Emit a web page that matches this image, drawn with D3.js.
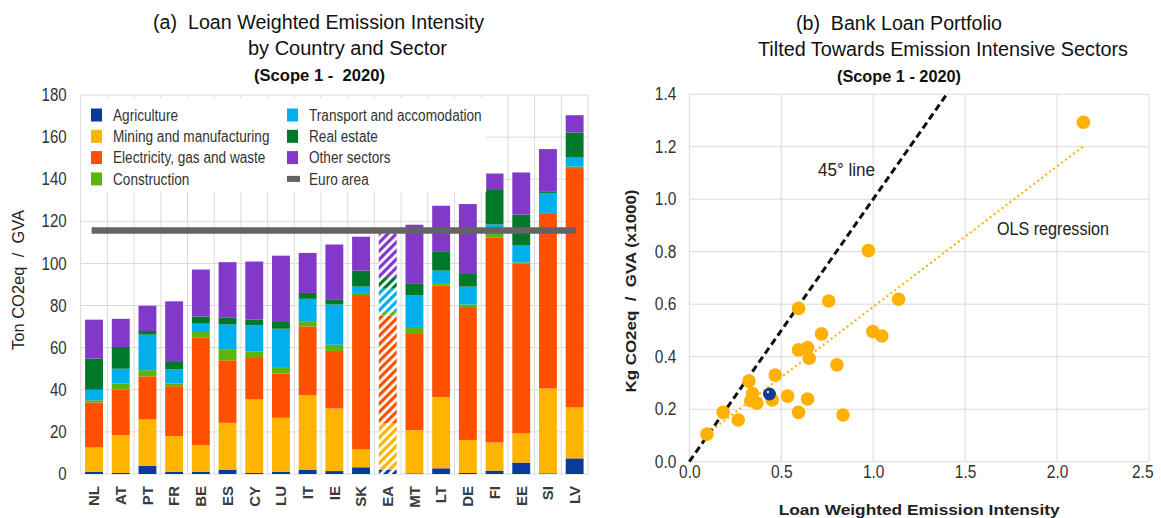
<!DOCTYPE html>
<html><head><meta charset="utf-8">
<script src="https://cdn.jsdelivr.net/npm/d3@7"></script>
<style>
html,body{margin:0;padding:0;background:#fff;}
svg{display:block;}
text{white-space:pre;}
</style></head>
<body>
<svg id="chart" width="1161" height="518"></svg>
<script>
// ---------- Data: panel (a) ----------
const countries = ["NL","AT","PT","FR","BE","ES","CY","LU","IT","IE","SK","EA","MT","LT","DE","FI","EE","SI","LV"];
const sectors = ["Agriculture","Mining and manufacturing","Electricity, gas and waste","Construction","Transport and accomodation","Real estate","Other sectors"];
const agriculture   = [1,0.5,3.8,1,1,1.9,0.5,1,1.9,1.4,3.2,1.9,0.3,2.7,0.5,1.6,5.4,0.3,7.4];
const mining        = [11.6,18,22.1,17,12.7,22.4,34.9,25.7,35.5,29.7,8.5,22.1,20.5,33.9,15.6,13.4,13.9,40.3,24.2];
const electricity   = [21.4,21.5,20.5,23.7,51,29.7,19.7,21,32.7,27.3,73.3,51.3,46.1,52.9,63.2,97.4,80.5,82.9,113.7];
const construction  = [1,3,2.9,1.3,3.2,5,3.2,2.7,2.5,3,1,1.7,2.9,0.8,1.2,1.6,0.7,0.5,0.7];
const transport     = [5,7,16.9,6.7,3.5,12,12.3,18.6,10.6,19.1,3,11,15,6.3,8.5,4.5,8,9.5,4.3];
const realEstate    = [14.8,10.3,1.7,3.5,3.4,3.2,2.7,3.2,2.8,2.2,7.6,5.5,5.5,9.2,6,16.8,14.7,0.5,11.9];
const otherSectors  = [18.5,13.4,12,28.8,22.3,26.4,27.6,31.5,19,26.3,16.1,20.8,28.1,21.6,33.2,7.4,20,20.3,8.2];
const euroAreaLevel = [115.6];
const yTicksA = [0,20,40,60,80,100,120,140,160,180];

// ---------- Data: panel (b) ----------
const lwei   = [2.143,0.974,0.594,0.758,1.138,0.719,0.998,1.047,0.594,0.643,0.652,0.803,0.467,0.324,0.344,0.334,0.367,0.451,0.535,0.643,0.184,0.266,0.594,0.836,0.096];
const kgco2  = [1.293,0.804,0.584,0.612,0.619,0.487,0.496,0.479,0.426,0.435,0.394,0.369,0.330,0.307,0.260,0.232,0.223,0.235,0.250,0.239,0.188,0.159,0.188,0.178,0.105];
const euroPointX = [0.436];
const euroPointY = [0.258];
const line45X = [0, 1.4];
const line45Y = [0, 1.4];
const olsX = [0.10, 2.14];
const olsY = [0.108, 1.20];
const xTicksB = [0,0.5,1.0,1.5,2.0,2.5];
const yTicksB = [0,0.2,0.4,0.6,0.8,1.0,1.2,1.4];

const colors = ["#0a3a9c","#ffb400","#ff5000","#5db40c","#00b0ec","#00782a","#8238c8"];
const euroColor = "#636363";
const dotColor = "#ffb000";
const dotBlue = "#123c94";
const gridColor = "#dadada";
const textColor = "#333";
const sans = "'Liberation Sans',Arial,sans-serif";

function narrow(sel, f){
  sel.each(function(){
    const w = this.getComputedTextLength();
    d3.select(this).attr("textLength", w*f).attr("lengthAdjust","spacingAndGlyphs");
  });
}

const svg = d3.select("#chart");

// ================= Panel (a) =================
const A = {left:80.7, right:588, top:95, bottom:474};
const xA = d3.scaleBand().domain(countries).range([A.left, A.right]).paddingInner(0.33).paddingOuter(0.165);
const yA = d3.scaleLinear().domain([0,180]).range([A.bottom, A.top]);

const gA = svg.append("g");
gA.append("g").selectAll("line").data(yTicksA).join("line")
  .attr("x1", A.left).attr("x2", A.right)
  .attr("y1", d=>yA(d)).attr("y2", d=>yA(d))
  .attr("stroke", gridColor).attr("stroke-width",1);
const bounds = countries.map(c => xA(c) - xA.step()*xA.paddingInner()/2).concat([A.right]);
gA.append("g").selectAll("line").data(bounds).join("line")
  .attr("x1", d=>d).attr("x2", d=>d)
  .attr("y1", A.top).attr("y2", A.bottom)
  .attr("stroke", gridColor).attr("stroke-width",1);

const yAxisA = d3.axisLeft(yA).tickValues(yTicksA).tickSize(0).tickPadding(14).tickFormat(d3.format("d"));
const gyA = gA.append("g").attr("transform",`translate(${A.left},0)`).call(yAxisA);
gyA.select(".domain").remove();
gyA.selectAll("text").attr("font-family", sans).attr("font-size", 17.5).attr("fill", textColor).call(narrow, 0.86);

const xAxisA = d3.axisBottom(xA).tickSize(0).tickPadding(0);
const gxA = gA.append("g").attr("transform",`translate(0,${A.bottom})`).call(xAxisA);
gxA.select(".domain").remove();
gxA.selectAll("text")
  .attr("transform","rotate(-90)")
  .attr("text-anchor","end").attr("dy","0.35em").attr("x",-12).attr("y",0)
  .attr("font-family", sans).attr("font-weight","bold").attr("font-size",15).attr("fill","#3a3a3a");

const defs = svg.append("defs");
colors.forEach((c,i)=>{
  const p = defs.append("pattern").attr("id","hatch"+i).attr("patternUnits","userSpaceOnUse")
    .attr("width",6).attr("height",6).attr("patternTransform","rotate(45)");
  p.append("rect").attr("width",6).attr("height",6).attr("fill","#fff");
  p.append("rect").attr("x",0).attr("width",3.2).attr("height",6).attr("fill",c);
});

const seriesVals = [agriculture, mining, electricity, construction, transport, realEstate, otherSectors];
const rows = countries.map((c,i)=>{ const o={country:c}; sectors.forEach((s,k)=>o[s]=seriesVals[k][i]); return o; });
const stacked = d3.stack().keys(sectors)(rows);
const barsG = gA.append("g");
stacked.forEach((layer,k)=>{
  barsG.append("g").selectAll("rect").data(layer).join("rect")
    .attr("x", d=>xA(d.data.country))
    .attr("width", xA.bandwidth())
    .attr("y", d=>yA(d[1]))
    .attr("height", d=>yA(d[0])-yA(d[1]))
    .attr("fill", d=> d.data.country==="EA" ? `url(#hatch${k})` : colors[k]);
});

// Legend
const legG = gA.append("g");
legG.append("rect").attr("x",A.left+0.5).attr("y",98).attr("width",405).attr("height",94).attr("fill","#fff");
const legItems = sectors.map((s,i)=>({name:s, color:colors[i], type:"rect"})).concat([{name:"Euro area", color:euroColor, type:"line"}]);
const legPos = [[0,0],[0,1],[0,2],[0,3],[1,0],[1,1],[1,2],[1,3]];
const colX = [91,287], rowY0 = 115, rowDy = 21.3;
legItems.forEach((it,i)=>{
  const [c,r] = legPos[i];
  const x = colX[c], y = rowY0 + r*rowDy;
  if(it.type==="rect"){
    legG.append("rect").attr("x",x).attr("y",y-6.5).attr("width",11).attr("height",13).attr("fill",it.color);
  } else {
    legG.append("rect").attr("x",x).attr("y",y-3).attr("width",13).attr("height",6).attr("fill",it.color);
  }
  legG.append("text").attr("x",x+22).attr("y",y).attr("dy","0.35em")
    .attr("font-family",sans).attr("font-size",16).attr("fill",textColor).text(it.name).call(narrow, 0.85);
});

gA.append("g").selectAll("line").data(euroAreaLevel).join("line")
  .attr("x1", xA("NL")+6.5).attr("x2", xA("LV")+xA.bandwidth()-8)
  .attr("y1", d=>yA(d)).attr("y2", d=>yA(d))
  .attr("stroke", euroColor).attr("stroke-width",6.5);

gA.append("text").attr("transform","translate(24,280) rotate(-90)")
  .attr("text-anchor","middle").attr("font-family",sans).attr("font-size",16.5).attr("fill","#222")
  .text("Ton CO2eq  /  GVA");

const tA = gA.append("g").attr("font-family",sans).attr("fill","#111");
tA.append("text").attr("x",153).attr("y",29).attr("font-size",20).attr("textLength",331).attr("lengthAdjust","spacingAndGlyphs").text("(a)  Loan Weighted Emission Intensity");
tA.append("text").attr("x",248).attr("y",55).attr("font-size",20).attr("textLength",199).attr("lengthAdjust","spacingAndGlyphs").text("by Country and Sector");
tA.append("text").attr("x",254).attr("y",81).attr("font-size",16).attr("font-weight","bold").attr("textLength",131).attr("lengthAdjust","spacingAndGlyphs").text("(Scope 1 -  2020)");

// ================= Panel (b) =================
const B = {left:689.3, right:1149, top:94.2, bottom:461.7};
const xB = d3.scaleLinear().domain([0,2.5]).range([B.left,B.right]);
const yB = d3.scaleLinear().domain([0,1.4]).range([B.bottom,B.top]);
const gB = svg.append("g");
gB.append("g").selectAll("line").data(yTicksB).join("line")
  .attr("x1",B.left).attr("x2",B.right).attr("y1",d=>yB(d)).attr("y2",d=>yB(d))
  .attr("stroke",gridColor).attr("stroke-width",1);
gB.append("g").selectAll("line").data(xTicksB).join("line")
  .attr("x1",d=>xB(d)).attr("x2",d=>xB(d)).attr("y1",B.top).attr("y2",B.bottom)
  .attr("stroke",gridColor).attr("stroke-width",1);

const gxB = gB.append("g").attr("transform",`translate(0,${B.bottom})`)
  .call(d3.axisBottom(xB).tickValues(xTicksB).tickSize(0).tickPadding(4).tickFormat(d3.format(".1f")));
gxB.select(".domain").remove();
gxB.selectAll("text").attr("font-family",sans).attr("font-size",18).attr("fill",textColor).call(narrow, 0.86);
// keep the last label inside the page edge
gxB.selectAll(".tick").filter(d=>d===2.5).select("text").attr("text-anchor","end").attr("x",4);
const gyB = gB.append("g").attr("transform",`translate(${B.left},0)`)
  .call(d3.axisLeft(yB).tickValues(yTicksB).tickSize(0).tickPadding(13).tickFormat(d3.format(".1f")));
gyB.select(".domain").remove();
gyB.selectAll("text").attr("font-family",sans).attr("font-size",18).attr("fill",textColor).call(narrow, 0.86);

const lineGen = d3.line().x(d=>xB(d[0])).y(d=>yB(d[1]));
gB.append("path").datum(olsX.map((x,i)=>[x,olsY[i]])).attr("d",lineGen)
  .attr("fill","none").attr("stroke",dotColor).attr("stroke-width",2).attr("stroke-dasharray","2,3");
gB.append("path").datum(line45X.map((x,i)=>[x,line45Y[i]])).attr("d",lineGen)
  .attr("fill","none").attr("stroke","#111").attr("stroke-width",3).attr("stroke-dasharray","7,4");

gB.append("g").selectAll("circle").data(lwei.map((x,i)=>[x,kgco2[i]])).join("circle")
  .attr("cx",d=>xB(d[0])).attr("cy",d=>yB(d[1])).attr("r",6.8).attr("fill",dotColor);
gB.append("g").selectAll("circle").data(euroPointX.map((x,i)=>[x,euroPointY[i]])).join("circle")
  .attr("cx",d=>xB(d[0])).attr("cy",d=>yB(d[1])).attr("r",6.5).attr("fill",dotBlue);
gB.append("g").selectAll("circle").data(euroPointX.map((x,i)=>[x,euroPointY[i]])).join("circle")
  .attr("cx",d=>xB(d[0])-1.5).attr("cy",d=>yB(d[1])-2).attr("r",1.3).attr("fill","#c9d4f0");

gB.append("text").attr("x",818).attr("y",176).attr("font-family",sans).attr("font-size",18).attr("fill","#222")
  .attr("textLength",57).attr("lengthAdjust","spacingAndGlyphs").text("45° line");
gB.append("text").attr("x",997).attr("y",235).attr("font-family",sans).attr("font-size",18).attr("fill","#222")
  .attr("textLength",112).attr("lengthAdjust","spacingAndGlyphs").text("OLS regression");

gB.append("text").attr("transform","translate(636,291) rotate(-90)")
  .attr("text-anchor","middle").attr("font-family",sans).attr("font-weight","bold").attr("font-size",15).attr("fill","#222")
  .attr("textLength",203).attr("lengthAdjust","spacingAndGlyphs")
  .text("Kg CO2eq  /  GVA (x1000)");
gB.append("text").attr("x",(B.left+B.right)/2).attr("y",515).attr("text-anchor","middle")
  .attr("font-family",sans).attr("font-weight","bold").attr("font-size",15.5).attr("fill","#222")
  .attr("textLength",281).attr("lengthAdjust","spacingAndGlyphs")
  .text("Loan Weighted Emission Intensity");

const tB = gB.append("g").attr("font-family",sans).attr("fill","#111");
tB.append("text").attr("x",796).attr("y",30).attr("font-size",20).attr("textLength",206).attr("lengthAdjust","spacingAndGlyphs").text("(b)  Bank Loan Portfolio");
tB.append("text").attr("x",758).attr("y",56).attr("font-size",20).attr("textLength",370).attr("lengthAdjust","spacingAndGlyphs").text("Tilted Towards Emission Intensive Sectors");
tB.append("text").attr("x",837).attr("y",82).attr("font-size",16).attr("font-weight","bold").attr("textLength",124).attr("lengthAdjust","spacingAndGlyphs").text("(Scope 1 - 2020)");
</script>
</body></html>
